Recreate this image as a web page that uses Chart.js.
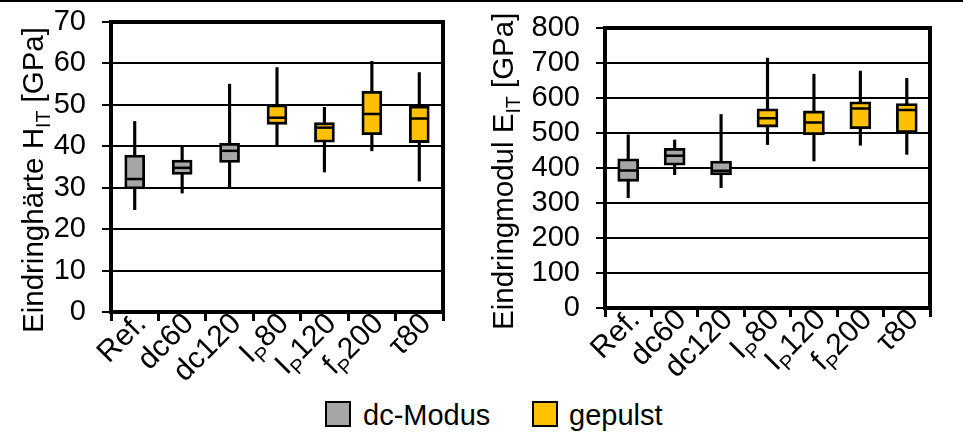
<!DOCTYPE html>
<html><head><meta charset="utf-8">
<script src="https://cdn.jsdelivr.net/npm/chart.js@4/dist/chart.umd.min.js"></script>
<style>
html,body{margin:0;padding:0;background:#fff;}
body{width:963px;height:434px;position:relative;overflow:hidden;font-family:"Liberation Sans",Arial,sans-serif;color:#000;}
#topline{position:absolute;left:0;top:0;width:963px;height:2px;background:#000;z-index:5;}
#w1{position:absolute;left:0;top:0;width:480px;height:390px;}
#w2{position:absolute;left:480px;top:0;width:483px;height:390px;}
.sw{position:absolute;top:401px;width:22px;height:22px;border:2px solid #000;}
.lt{position:absolute;top:401px;font-size:29px;line-height:29px;white-space:nowrap;}
</style></head>
<body>
<div id="topline"></div>
<div id="w1"><canvas id="c1" width="480" height="390"></canvas></div>
<div id="w2"><canvas id="c2" width="483" height="390"></canvas></div>
<div class="sw" style="left:325px;background:#a6a6a6"></div><div class="lt" style="left:363px">dc-Modus</div>
<div class="sw" style="left:532px;background:#ffc000"></div><div class="lt" style="left:569px">gepulst</div>
<script>
// ---- data ----
const categories = ['Ref.', 'dc60', 'dc120', 'I_P80', 'I_P120', 'f_P200', 'τ80'];
const groupOf = ['dc-Modus', 'dc-Modus', 'dc-Modus', 'gepulst', 'gepulst', 'gepulst', 'gepulst'];
const hMin = [24.7, 28.7, 30.0, 40.2, 33.8, 38.9, 31.6];
const hQ1  = [29.7, 33.2, 36.1, 45.3, 41.0, 42.8, 40.9];
const hMed = [32.1, 34.8, 38.9, 46.9, 44.5, 47.8, 46.7];
const hQ3  = [37.9, 36.7, 40.7, 50.0, 45.7, 53.3, 49.7];
const hMax = [46.0, 40.2, 55.0, 59.0, 49.4, 60.5, 57.8];
const eMin = [315, 381, 344, 467, 420, 465, 439];
const eQ1  = [362, 408, 380, 517, 495, 512, 501];
const eMed = [393, 435, 392, 542, 530, 570, 566];
const eQ3  = [426, 456, 420, 569, 563, 589, 584];
const eMax = [495, 480, 553, 714, 668, 677, 656];
const hTicks = {min: 0, max: 70, step: 10};
const eTicks = {min: 0, max: 800, step: 100};
const hTitle = ['Eindringhärte H', '_IT', ' [GPa]'];
const eTitle = ['Eindringmodul E', '_IT', ' [GPa]'];
const groupColors = {'dc-Modus': '#a6a6a6', 'gepulst': '#ffc000'};

const FAM = '"Liberation Sans", Arial, sans-serif';
const TICKFONT = '30px ' + FAM;
const SUBFONT = '20px ' + FAM;
const TITLEFONT = '29.5px ' + FAM;
const TITLESUB = '19.5px ' + FAM;

function parseLabel(s) {
  const parts = [];
  let buf = '';
  for (let i = 0; i < s.length; i++) {
    if (s[i] === '_' && i + 1 < s.length) {
      if (buf) parts.push({t: buf, sub: false});
      parts.push({t: s[i + 1], sub: true});
      buf = ''; i++;
    } else buf += s[i];
  }
  if (buf) parts.push({t: buf, sub: false});
  return parts;
}
const plainLabels = categories.map(c => c.replace(/_/g, ''));

function makeChart(id, cfg) {
  const colors = groupOf.map(g => groupColors[g]);
  const framePlugin = {
    id: 'frame',
    afterDraw(chart) {
      const a = chart.chartArea, ctx = chart.ctx;
      ctx.save();
      ctx.strokeStyle = '#000'; ctx.lineWidth = 4;
      ctx.beginPath();
      ctx.moveTo(a.left - 2, a.top); ctx.lineTo(a.right, a.top); ctx.lineTo(a.right, a.bottom + 2);
      ctx.stroke();
      // x labels with subscripts
      const sx = chart.scales.x;
      categories.forEach((lab, i) => {
        const parts = parseLabel(lab);
        let w = 0;
        parts.forEach(p => { ctx.font = p.sub ? SUBFONT : TICKFONT; p.w = ctx.measureText(p.t).width; w += p.w; });
        ctx.save();
        ctx.translate(sx.getPixelForValue(i) + cfg.lx, a.bottom + cfg.ly);
        ctx.rotate(-Math.PI / 4);
        ctx.fillStyle = '#000';
        ctx.textBaseline = 'alphabetic';
        ctx.textAlign = 'left';
        let cx = -w;
        parts.forEach(p => { ctx.font = p.sub ? SUBFONT : TICKFONT; ctx.fillText(p.t, cx, p.sub ? 8 : 0); cx += p.w; });
        ctx.restore();
      });
      // y title with subscript
      ctx.save();
      ctx.translate(cfg.tx, cfg.ty);
      ctx.rotate(-Math.PI / 2);
      ctx.fillStyle = '#000';
      ctx.textBaseline = 'alphabetic';
      ctx.textAlign = 'left';
      let cx = 0;
      cfg.title.forEach(s => {
        const sub = s[0] === '_';
        const t = sub ? s.slice(1) : s;
        ctx.font = sub ? TITLESUB : TITLEFONT;
        ctx.fillText(t, cx, sub ? 7 : 0);
        cx += ctx.measureText(t).width;
      });
      ctx.restore();
      ctx.restore();
    }
  };
  return new Chart(document.getElementById(id), {
    data: {
      labels: plainLabels,
      datasets: [
        {type: 'line', label: 'Median', data: cfg.med, showLine: false, pointStyle: 'line',
         pointRadius: cfg.bw / 2 - 0.5, pointBorderWidth: 2.5, pointBorderColor: '#000', pointBackgroundColor: '#000', order: 1},
        {type: 'bar', label: 'Box', data: cfg.q1.map((v, i) => [v, cfg.q3[i]]), backgroundColor: colors,
         borderColor: '#000', borderWidth: 2.8, borderSkipped: false, barThickness: cfg.bw, grouped: false, order: 2},
        {type: 'bar', label: 'Whisker', data: cfg.min.map((v, i) => [v, cfg.max[i]]), backgroundColor: '#000',
         borderWidth: 0, barThickness: 2.5, grouped: false, order: 3}
      ]
    },
    options: {
      responsive: false, animation: false, devicePixelRatio: 1, events: [],
      layout: {padding: {left: 0, top: cfg.pt, right: cfg.pr, bottom: 0}},
      plugins: {legend: {display: false}, tooltip: {enabled: false}},
      scales: {
        x: {
          type: 'category', offset: true,
          grid: {display: true, drawOnChartArea: false, drawTicks: true, tickLength: 9, lineWidth: 3, color: '#000', offset: true},
          border: {display: true, color: '#000', width: 4},
          ticks: {display: false},
          afterFit(s) { s.height = cfg.xh; s.paddingLeft = 0; s.paddingRight = 0; }
        },
        y: {
          min: cfg.ticks.min, max: cfg.ticks.max,
          grid: {color: '#000', lineWidth: 2, tickLength: 9, drawTicks: true},
          border: {display: true, color: '#000', width: 4},
          ticks: {stepSize: cfg.ticks.step, autoSkip: false, color: '#000', font: {family: FAM, size: 29}, padding: 16},
          afterFit(s) { s.width = cfg.yw; s.paddingTop = 0; s.paddingBottom = 0; }
        }
      }
    },
    plugins: [framePlugin]
  });
}

makeChart('c1', {min: hMin, q1: hQ1, med: hMed, q3: hQ3, max: hMax, ticks: hTicks, title: hTitle,
  bw: 20, pt: 22, pr: 37, yw: 111, xh: 78, lx: 13, ly: 13, tx: 43, ty: 333});
makeChart('c2', {min: eMin, q1: eQ1, med: eMed, q3: eQ3, max: eMax, ticks: eTicks, title: eTitle,
  bw: 21, pt: 28, pr: 33, yw: 125, xh: 82, lx: 13, ly: 13, tx: 32.5, ty: 330});
</script>
</body></html>
